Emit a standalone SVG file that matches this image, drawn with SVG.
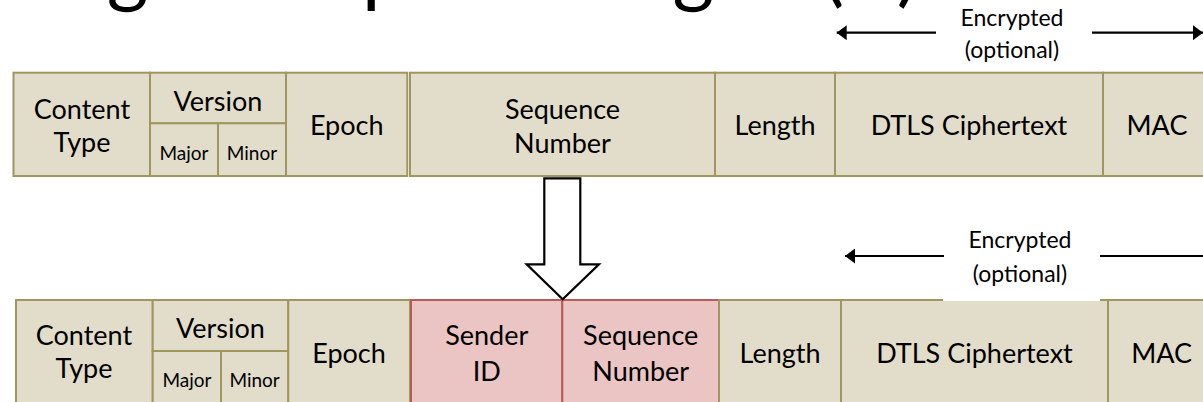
<svg xmlns="http://www.w3.org/2000/svg" width="1203" height="402" viewBox="0 0 1203 402">
<style>
  .tan { fill: #E1DDCA; stroke: #A0965F; stroke-width: 2; }
  .red { fill: #EBC5C4; stroke: #B85C5A; stroke-width: 2; }
  text { font-family: Lato, "Open Sans", "Liberation Sans", sans-serif; fill: #000; text-anchor: middle; }
  .f { font-size: 27px; }
  .s { font-size: 19px; }
  .e { font-size: 23px; }
  .title { font-size: 80px; text-anchor: start; }
  .conn { stroke: #000; stroke-width: 2.2; fill: none; }
</style>
<defs>
  <marker id="ah" viewBox="0 0 10 15" refX="10" refY="7.5" markerWidth="10" markerHeight="15" markerUnits="userSpaceOnUse" orient="auto">
    <path d="M0,0 L10,7.5 L0,15 Z" fill="#000"/>
  </marker>
</defs>
<rect x="0" y="0" width="1203" height="402" fill="#FFFFFF"/>

<text class="title" x="-150" y="-3" textLength="1068" lengthAdjust="spacing">Sending Group Messages (5)</text>

<!-- Top record -->
<g id="top-content-type">
  <rect class="tan" x="13.5" y="72.7" width="136.5" height="103.3"/>
  <text class="f" x="82" y="119">Content</text>
  <text class="f" x="82" y="152">Type</text>
</g>
<g id="top-version">
  <rect class="tan" x="150" y="72.7" width="136" height="50.6"/>
  <text class="f" x="218" y="110.7">Version</text>
  <rect class="tan" x="150" y="123.3" width="68" height="52.7"/>
  <text class="s" x="184" y="160">Major</text>
  <rect class="tan" x="218" y="123.3" width="68" height="52.7"/>
  <text class="s" x="252" y="160">Minor</text>
</g>
<g id="top-epoch">
  <rect class="tan" x="286" y="72.7" width="121.3" height="103.3"/>
  <text class="f" x="346.7" y="135">Epoch</text>
</g>
<g id="top-sequence-number">
  <rect class="tan" x="410" y="72.7" width="305" height="103.3"/>
  <text class="f" x="562.5" y="119.3">Sequence</text>
  <text class="f" x="562.5" y="153">Number</text>
</g>
<g id="top-length">
  <rect class="tan" x="715" y="72.7" width="120" height="103.3"/>
  <text class="f" x="775" y="135">Length</text>
</g>
<g id="top-ciphertext">
  <rect class="tan" x="835" y="72.7" width="268" height="103.3"/>
  <text class="f" x="969" y="135">DTLS Ciphertext</text>
</g>
<g id="top-mac">
  <rect class="tan" x="1103" y="72.7" width="120" height="103.3"/>
  <text class="f" x="1157" y="135">MAC</text>
</g>

<!-- Bottom record -->
<g id="bottom-content-type">
  <rect class="tan" x="16" y="300" width="136.7" height="115"/>
  <text class="f" x="84" y="345">Content</text>
  <text class="f" x="84" y="378">Type</text>
</g>
<g id="bottom-version">
  <rect class="tan" x="152.7" y="300" width="135.6" height="51"/>
  <text class="f" x="220.5" y="338.3">Version</text>
  <rect class="tan" x="152.7" y="351" width="68.3" height="64"/>
  <text class="s" x="187" y="386.7">Major</text>
  <rect class="tan" x="221" y="351" width="67.3" height="64"/>
  <text class="s" x="254.6" y="386.7">Minor</text>
</g>
<g id="bottom-epoch">
  <rect class="tan" x="288.3" y="300" width="121.7" height="115"/>
  <text class="f" x="349" y="362.7">Epoch</text>
</g>
<g id="bottom-sender-id">
  <rect class="red" x="411" y="300" width="151.3" height="115"/>
  <text class="f" x="486.7" y="345">Sender</text>
  <text class="f" x="486.7" y="380.7">ID</text>
</g>
<g id="bottom-sequence-number">
  <rect class="red" x="562.3" y="300" width="156.7" height="115"/>
  <text class="f" x="640.7" y="345">Sequence</text>
  <text class="f" x="640.7" y="380.7">Number</text>
</g>
<g id="bottom-length">
  <rect class="tan" x="719" y="300" width="122" height="115"/>
  <text class="f" x="780" y="363">Length</text>
</g>
<g id="bottom-ciphertext">
  <rect class="tan" x="841" y="300" width="267" height="115"/>
  <text class="f" x="974.5" y="363.3">DTLS Ciphertext</text>
</g>
<g id="bottom-mac">
  <rect class="tan" x="1108" y="300" width="120" height="115"/>
  <text class="f" x="1161.7" y="363.3">MAC</text>
</g>

<!-- Connectors -->
<g id="connectors">
  <path class="conn" d="M544.3,178.3 L580.3,178.3 L580.3,264.3 L599,264.3 L562.7,299.3 L526.7,264.3 L544.3,264.3 Z" style="fill:#FFFFFF"/>
  <line class="conn" x1="936" y1="32.7" x2="836.7" y2="32.7" marker-end="url(#ah)"/>
  <line class="conn" x1="1092" y1="32.7" x2="1203" y2="32.7" marker-end="url(#ah)"/>
  <rect x="943" y="226" width="157" height="75" fill="#FFFFFF"/>
  <line class="conn" x1="944" y1="256" x2="845" y2="256" marker-end="url(#ah)"/>
  <line class="conn" x1="1100" y1="256" x2="1213" y2="256" marker-end="url(#ah)"/>
</g>

<g id="label-encrypted-top">
  <text class="e" x="1012" y="26">Encrypted</text>
  <text class="e" x="1012" y="58">(optional)</text>
</g>
<g id="label-encrypted-bottom">
  <text class="e" x="1020" y="248.3">Encrypted</text>
  <text class="e" x="1020" y="281.7">(optional)</text>
</g>
</svg>
